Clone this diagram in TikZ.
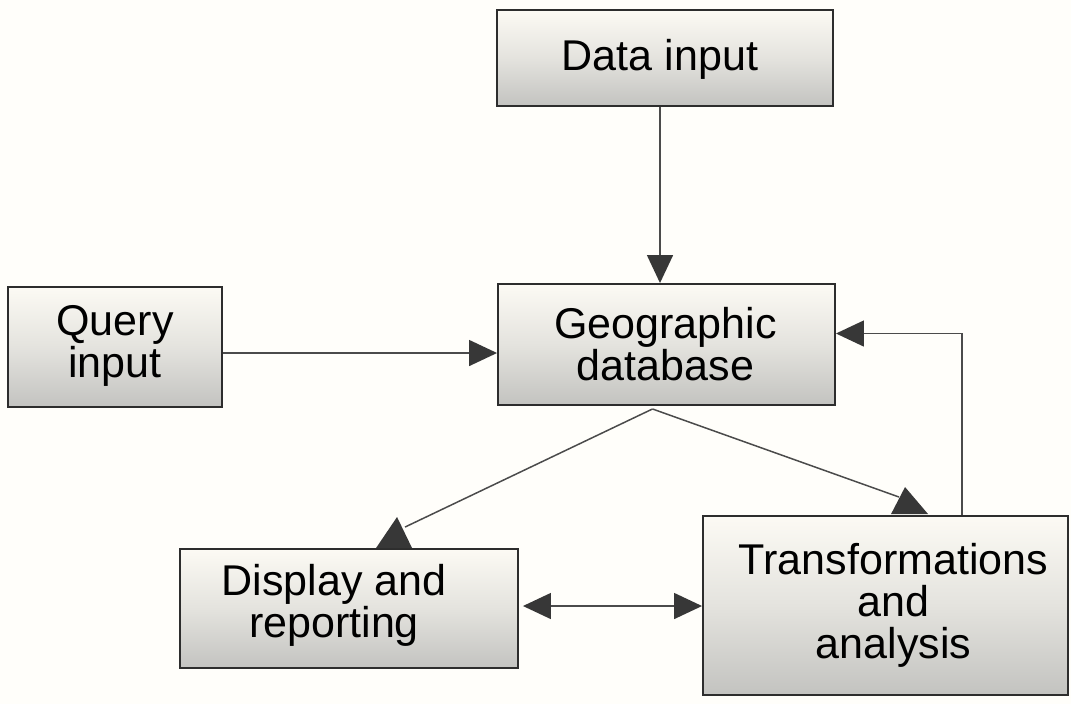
\documentclass[tikz,border=0pt]{standalone}
\usepackage{fontspec}
\setmainfont{Liberation Sans}
\usetikzlibrary{arrows.meta,calc}
\definecolor{paper}{RGB}{255,254,250}
\definecolor{ink}{RGB}{45,45,45}
\definecolor{linegray}{RGB}{75,75,75}
\definecolor{tipgray}{RGB}{55,55,55}
\definecolor{boxtop}{RGB}{252,250,244}
\definecolor{boxmid}{RGB}{228,227,222}
\definecolor{boxbot}{RGB}{195,195,192}
\tikzset{
  block/.style={draw=ink, line width=1.1pt, rectangle, inner sep=0pt,
    top color=boxtop, bottom color=boxbot, middle color=boxmid,
    shading angle=0},
  txt/.style={font=\fontsize{24.5}{24}\selectfont, align=center, text=black},
  link/.style={draw=linegray, line width=0.85pt},
  tip/.style={-{Triangle[length=0.56cm,width=0.52cm,fill=tipgray,color=tipgray]}},
  twotip/.style={{Triangle[length=0.56cm,width=0.52cm,fill=tipgray,color=tipgray]}-{Triangle[length=0.56cm,width=0.52cm,fill=tipgray,color=tipgray]}},
  head/.style={fill=tipgray},
}
\begin{document}
\begin{tikzpicture}[x=0.02cm,y=-0.02cm]
  % page
  \fill[paper] (0,0) rectangle (1071,704);
  \useasboundingbox (0,0) rectangle (1071,704);

  % boxes
  \node[block, minimum width=336*0.02cm, minimum height=96*0.02cm]  (data)  at (665,58)    {};
  \node[block, minimum width=214*0.02cm, minimum height=120*0.02cm] (query) at (115,347)   {};
  \node[block, minimum width=337*0.02cm, minimum height=121*0.02cm] (geo)   at (666.5,344.5) {};
  \node[block, minimum width=338*0.02cm, minimum height=119*0.02cm] (disp)  at (349,608.5) {};
  \node[block, minimum width=365*0.02cm, minimum height=179*0.02cm] (trans) at (885.5,605.5) {};

  % labels
  \node[txt] (dataT)  at ($(data.center)+(-5,1)$)   {Data input};
  \node[txt] (queryT) at ($(query.center)+(0,-1)$)  {Query\\input};
  \node[txt] (geoT)   at ($(geo.center)+(-1,0)$)    {Geographic\\database};
  \node[txt] (dispT)  at ($(disp.center)+(-15,-3)$) {Display and\\reporting};
  \node[txt] (transT) at ($(trans.center)+(8,0)$)   {Transformations\\and\\analysis};

  % straight connectors
  \draw[link,tip] (data.south -| 660,0) -- (geo.north -| 660,0);
  \draw[link,tip] (query.east |- 0,353) -- (geo.west |- 0,353);
  \draw[link,twotip] ($(disp.east |- 0,606)+(4,0)$) -- (trans.west |- 0,606);
  \draw[link,tip] (trans.north -| 962,0) |- ($(geo.east)+(0,-11)$);

  % diagonal connectors from the database with their heads seated on the box tops
  \coordinate (fork) at ($(geo.south)+(-14,3)$);
  \coordinate (dA) at ($(disp.north west)+(218,-31)$);
  \coordinate (tA) at ($(trans.north west)+(203,-28)$);
  \draw[link] (fork) -- ($(dA)+(8,10)$);
  \draw[link] (fork) -- ($(tA)+(-6,10)$);
  \fill[head] (dA) -- ($(disp.north west)+(197,0)$) -- ($(disp.north west)+(233,0)$) -- cycle;
  \fill[head] (tA) -- ($(trans.north west)+(189,-1)$) -- ($(trans.north west)+(226,-1)$) -- cycle;
\end{tikzpicture}
\end{document}
